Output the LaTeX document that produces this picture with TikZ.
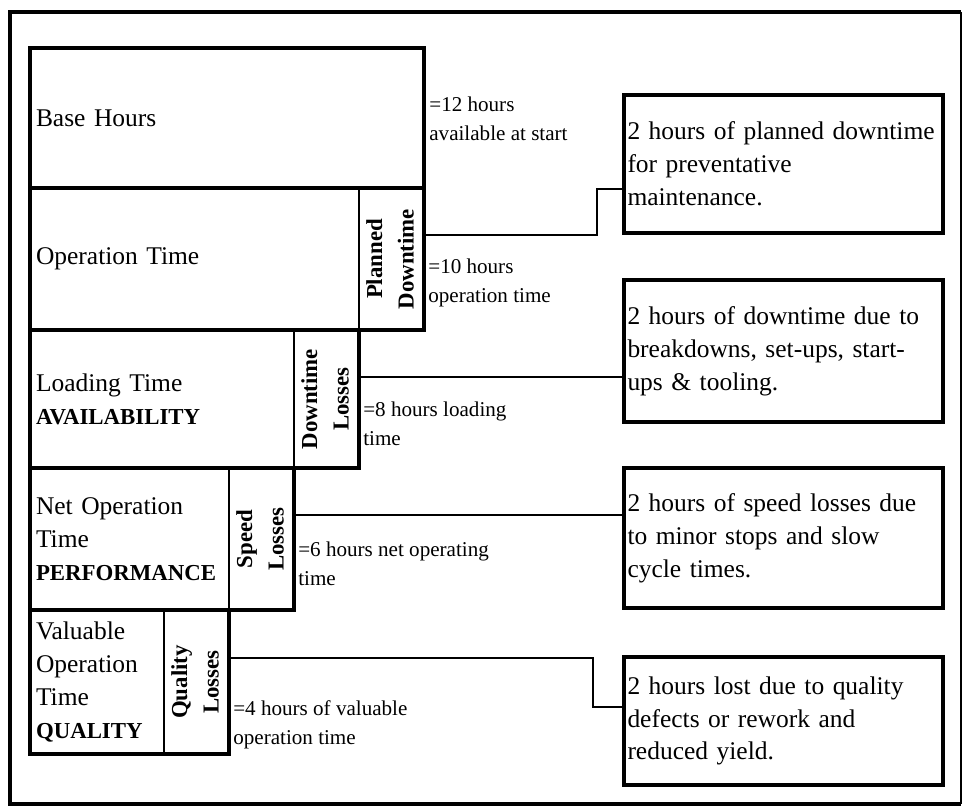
\documentclass[tikz,border=0pt]{standalone}
\usepackage{fontspec}
\setmainfont{Liberation Serif}
\usepackage{graphicx}
\usepackage{tikz}

\hyphenpenalty=10000
\exhyphenpenalty=10000

\newcommand{\mainsize}{\fontsize{14.5}{18.7}\selectfont}
\newcommand{\hrsize}{\fontsize{12}{16.5}\selectfont}
\newcommand{\losssize}{\fontsize{13}{18}\selectfont\bfseries}
\newcommand{\capsword}[1]{{\fontsize{13}{18.7}\selectfont\bfseries #1}}
\newcommand{\losslabel}[2]{\rotatebox{90}{\begin{tabular}{@{}c@{}}#1\\#2\end{tabular}}}

\tikzset{
  stage/.style={draw, line width=2pt, outer sep=0pt, anchor=north west, align=left, inner xsep=0.12cm, inner ysep=0pt, font=\mainsize},
  lossbox/.style={draw, line width=1pt, outer sep=0pt, anchor=north east, inner sep=0pt, minimum width=1.3cm, font=\losssize},
  notebox/.style={draw, line width=2pt, outer sep=0pt, anchor=north west, align=left, inner xsep=0.07cm, inner ysep=0pt, text width=6.24cm, font=\mainsize},
  hrs/.style={anchor=west, align=left, inner sep=0pt, font=\hrsize},
  link/.style={line width=1pt}
}

\begin{document}
\begin{tikzpicture}
        \useasboundingbox (0,0) rectangle (19.28,16.18);

        % frame
        \draw[line width=2.8pt] (19.22,15.94) -- (0.2,15.94) -- (0.2,0.1) -- (19.22,0.1);
        \draw[line width=0.8pt] (19.22,15.94) -- (19.22,0.1);

        % stacked time rows
        \node[stage, text width=7.64cm, minimum height=2.80cm] (base) at (0.6,15.22) {Base Hours};
        \node[stage, text width=7.64cm, minimum height=2.84cm] (optime) at (0.6,12.42) {Operation Time};
        \node[lossbox, minimum height=2.84cm] (pd) at (optime.north east) {\losslabel{Planned}{Downtime}};
        \node[stage, text width=6.34cm, minimum height=2.76cm] (load) at (0.6,9.58) {Loading Time\\\capsword{AVAILABILITY}};
        \node[lossbox, minimum height=2.76cm] (dl) at (load.north east) {\losslabel{Downtime}{Losses}};
        \node[stage, text width=5.04cm, minimum height=2.84cm] (net) at (0.6,6.82) {Net Operation\\Time\\\capsword{PERFORMANCE}};
        \node[lossbox, minimum height=2.84cm] (sl) at (net.north east) {\losslabel{Speed}{Losses}};
        \node[stage, text width=3.74cm, minimum height=2.88cm] (val) at (0.6,3.98) {Valuable\\Operation\\Time\\\capsword{QUALITY}};
        \node[lossbox, minimum height=2.88cm] (ql) at (val.north east) {\losslabel{Quality}{Losses}};

        % hours left
        \node[hrs] (h12) at (8.58,13.80) {=12 hours\\available at start};
        \node[hrs] (h10) at (8.56,10.52) {=10 hours\\operation time};
        \node[hrs] (h8) at (7.26,7.70) {=8 hours loading\\time};
        \node[hrs] (h6) at (5.96,4.90) {=6 hours net operating\\time};
        \node[hrs] (h4) at (4.66,1.68) {=4 hours of valuable\\operation time};

        % explanations
        \node[notebox, minimum height=2.76cm] (n1) at (12.48,14.28) {2 hours of planned downtime\\for preventative\\maintenance.};
        \node[notebox, minimum height=2.84cm] (n2) at (12.48,10.58) {2 hours of downtime due to\\breakdowns, set-ups, start-\\ups \& tooling.};
        \node[notebox, minimum height=2.80cm] (n3) at (12.48,6.82) {2 hours of speed losses due\\to minor stops and slow\\cycle times.};
        \node[notebox, minimum height=2.56cm] (n4) at (12.48,3.04) {2 hours lost due to quality\\defects or rework and\\reduced yield.};

        \draw[link] (pd.east |- 0,11.48) -| (11.94,12.40) -- (n1.west |- 0,12.40);
        \draw[link] (dl.east |- 0,8.64) -- (n2.west |- 0,8.64);
        \draw[link] (sl.east |- 0,5.88) -- (n3.west |- 0,5.88);
        \draw[link] (ql.east |- 0,3.02) -| (11.86,2.04) -- (n4.west |- 0,2.04);

\end{tikzpicture}
\end{document}
